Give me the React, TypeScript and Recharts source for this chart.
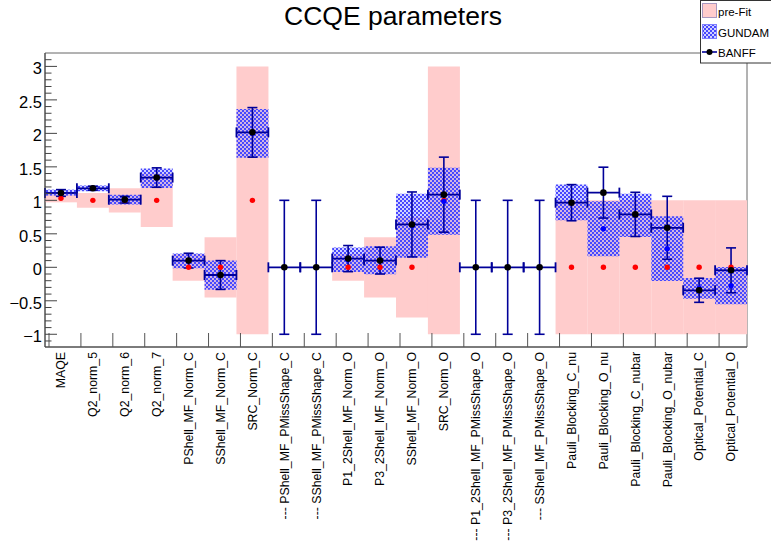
import React from "react"
import {
  ComposedChart,
  Bar,
  Scatter,
  ErrorBar,
  XAxis,
  YAxis,
  ReferenceArea,
} from "recharts"

// parameter names, one bin each
const labels = [
  "MAQE",
  "Q2_norm_5",
  "Q2_norm_6",
  "Q2_norm_7",
  "PShell_MF_Norm_C",
  "SShell_MF_Norm_C",
  "SRC_Norm_C",
  "--- PShell_MF_PMissShape_C",
  "--- SShell_MF_PMissShape_C",
  "P1_2Shell_MF_Norm_O",
  "P3_2Shell_MF_Norm_O",
  "SShell_MF_Norm_O",
  "SRC_Norm_O",
  "--- P1_2Shell_MF_PMissShape_O",
  "--- P3_2Shell_MF_PMissShape_O",
  "--- SShell_MF_PMissShape_O",
  "Pauli_Blocking_C_nu",
  "Pauli_Blocking_O_nu",
  "Pauli_Blocking_C_nubar",
  "Pauli_Blocking_O_nubar",
  "Optical_Potential_C",
  "Optical_Potential_O",
]

// pre-fit prior and its 1 sigma
const priorValues = [1.03, 1, 1, 1, 0, 0, 1, null, null, 0, 0, 0, 1, null, null, null, 0, 0, 0, 0, 0, 0]
const prefitErr = [0.06, 0.11, 0.18, 0.4, 0.2, 0.45, 2, null, null, 0.2, 0.45, 0.75, 2, null, null, null, 1, 1, 1, 1, 1, 1]

// GUNDAM post-fit
const gundamValues = [1.115, 1.18, 1.01, 1.33, 0.095, -0.117, 2.0, null, null, 0.112, 0.105, 0.62, 0.985, null, null, null, 0.968, 0.575, 0.776, 0.278, -0.313, -0.274]
const gundamErr = [0.045, 0.043, 0.072, 0.145, 0.11, 0.217, 0.365, null, null, 0.182, 0.21, 0.477, 0.5, null, null, null, 0.267, 0.41, 0.324, 0.483, 0.155, 0.279]

// BANFF post-fit
const banffValues = [1.11, 1.18, 1.01, 1.34, 0.1, -0.115, 2.015, 0, 0, 0.13, 0.1, 0.64, 1.085, 0, 0, 0, 0.965, 1.115, 0.79, 0.59, -0.343, -0.045]
const banffErr = [0.05, 0.03, 0.05, 0.145, 0.11, 0.215, 0.37, 1, 1, 0.195, 0.2, 0.485, 0.56, 1, 1, 1, 0.27, 0.38, 0.33, 0.47, 0.18, 0.335]

const Y_MIN = -1.19
const Y_MAX = 3.2

// major ticks every 0.5, minor every 0.1
const yTicks: number[] = []
for (let i = -11; i <= 31; i++) yTicks.push(i / 10)

const NAVY = "#000099"
const PINK = "#ffcccc"
const FONT = "'Liberation Sans', Arial, sans-serif"
const BIN_W = 702 / 22

const rows = labels.map((name, i) => {
  const p = priorValues[i]
  const g = gundamValues[i]
  return {
    name,
    x: i + 0.5,
    xErr: 0.5,
    prior: p,
    prefit: p == null ? null : [p - (prefitErr[i] as number), p + (prefitErr[i] as number)],
    gundam: g,
    gundamBox: g == null ? null : [g - (gundamErr[i] as number), g + (gundamErr[i] as number)],
    banff: banffValues[i],
    banffErr: banffErr[i],
  }
})

const priorRows = rows.filter((r) => r.prior != null)
const gundamRows = rows.filter((r) => r.gundam != null)

const fmt = (v: number) => {
  const s = String(Math.round(v * 10) / 10)
  return s.startsWith("-") ? "\u2212" + s.slice(1) : s
}

const YTick = (props: any) => {
  const { x, y, payload } = props
  const v = payload.value
  const major = Math.abs(v * 2 - Math.round(v * 2)) < 1e-6
  return (
    <g>
      <line x1={x} x2={x + (major ? 12 : 6.5)} y1={y} y2={y} stroke="#444" />
      {major && (
        <text x={x - 3} y={y} dy={8} textAnchor="end" fontSize={16.5} fontFamily={FONT} fill="#000">
          {fmt(v)}
        </text>
      )}
    </g>
  )
}

const XTick = (props: any) => {
  const { x, y, payload } = props
  const tx = x - BIN_W / 2 + 4
  return (
    <g>
      <line x1={tx} x2={tx} y1={y} y2={y - 14} stroke="#555" />
      <text
        transform={`translate(${x},${y + 5}) rotate(-90)`}
        dy="0.35em"
        textAnchor="end"
        fontSize={12.3}
        fontFamily={FONT}
        fill="#000"
      >
        {payload.value}
      </text>
    </g>
  )
}

const dot = (r: number, fill: string) => (props: any) =>
  props.cx == null ? <g /> : <circle cx={props.cx} cy={props.cy} r={r} fill={fill} />

export default function App() {
  return (
    <div style={{ position: "absolute", left: 0, top: 0, width: 771, height: 547, background: "#fff" }}>
      <ComposedChart
        width={771}
        height={547}
        data={rows}
        margin={{ top: 53, right: 24, bottom: 0, left: 0 }}
        barCategoryGap={0}
        barGap={0}
      >
        <XAxis
          xAxisId="cat"
          dataKey="name"
          type="category"
          height={200}
          interval={0}
          tickSize={0}
          tickMargin={0}
          tickLine={false}
          axisLine={{ stroke: "#444" }}
          tick={<XTick />}
        />
        <XAxis xAxisId="cat2" dataKey="name" type="category" hide />
        <XAxis xAxisId="num" dataKey="x" type="number" domain={[0, 22]} allowDataOverflow hide />
        <YAxis
          yAxisId="y"
          type="number"
          domain={[Y_MIN, Y_MAX]}
          allowDataOverflow
          ticks={yTicks}
          interval={0}
          width={45}
          tickSize={0}
          tickMargin={0}
          tickLine={false}
          axisLine={{ stroke: "#444" }}
          tick={<YTick />}
        />
        <YAxis yAxisId="y2" type="number" domain={[Y_MIN, Y_MAX]} allowDataOverflow hide />

        <Bar xAxisId="cat" yAxisId="y" dataKey="prefit" fill={PINK} isAnimationActive={false} />
        <Scatter
          xAxisId="num"
          yAxisId="y"
          data={priorRows}
          dataKey="prior"
          shape={dot(2.7, "#ff0000")}
          isAnimationActive={false}
        />
        <Bar xAxisId="cat2" yAxisId="y2" dataKey="gundamBox" fill="url(#gundamHatch)" isAnimationActive={false} />
        <Scatter
          xAxisId="num"
          yAxisId="y"
          data={gundamRows}
          dataKey="gundam"
          shape={dot(2.7, "#0000ff")}
          isAnimationActive={false}
        />
        <Scatter xAxisId="num" yAxisId="y" dataKey="banff" shape={dot(3.3, "#000")} isAnimationActive={false}>
          <ErrorBar dataKey="banffErr" direction="y" width={5} stroke={NAVY} strokeWidth={1.6} />
          <ErrorBar dataKey="xErr" direction="x" width={5} stroke={NAVY} strokeWidth={1.8} />
        </Scatter>

        <ReferenceArea
          xAxisId="num"
          yAxisId="y"
          x1={0}
          x2={22}
          y1={Y_MIN}
          y2={Y_MAX}
          fill="none"
          fillOpacity={0}
          stroke="#666"
          strokeWidth={1}
        />
      </ComposedChart>

      <svg
        width={771}
        height={547}
        style={{ position: "absolute", left: 0, top: 0, pointerEvents: "none" }}
      >
        <defs>
          <pattern id="gundamHatch" width={4} height={4} patternUnits="userSpaceOnUse">
            <rect x={0} y={0} width={4} height={4} fill="#9999ff" fillOpacity={0.45} />
            <rect x={0} y={0} width={2} height={2} fill="#4848ff" />
            <rect x={2} y={2} width={2} height={2} fill="#4848ff" />
          </pattern>
        </defs>
        <text x={393} y={25} textAnchor="middle" fontSize={26.5} fontFamily={FONT} fill="#000">
          CCQE parameters
        </text>
        <rect x={700.5} y={0.5} width={80} height={62.5} fill="#fff" stroke="#333" />
        <rect x={702.5} y={3.5} width={14} height={14} fill={PINK} stroke="#a898c0" />
        <text x={718} y={16} fontSize={11.5} fontFamily={FONT} fill="#000">
          pre-Fit
        </text>
        <rect x={702.5} y={24.5} width={14} height={14} fill="#fff" stroke="#8080ff" />
        <rect x={703} y={25} width={13} height={13} fill="url(#gundamHatch)" />
        <text x={718} y={37} fontSize={11.5} fontFamily={FONT} fill="#000">
          GUNDAM
        </text>
        <line x1={702} x2={717} y1={52} y2={52} stroke={NAVY} strokeWidth={1.6} />
        <circle cx={709.5} cy={52} r={3} fill="#000" />
        <text x={718} y={57} fontSize={11.5} fontFamily={FONT} fill="#000">
          BANFF
        </text>
      </svg>
    </div>
  )
}
